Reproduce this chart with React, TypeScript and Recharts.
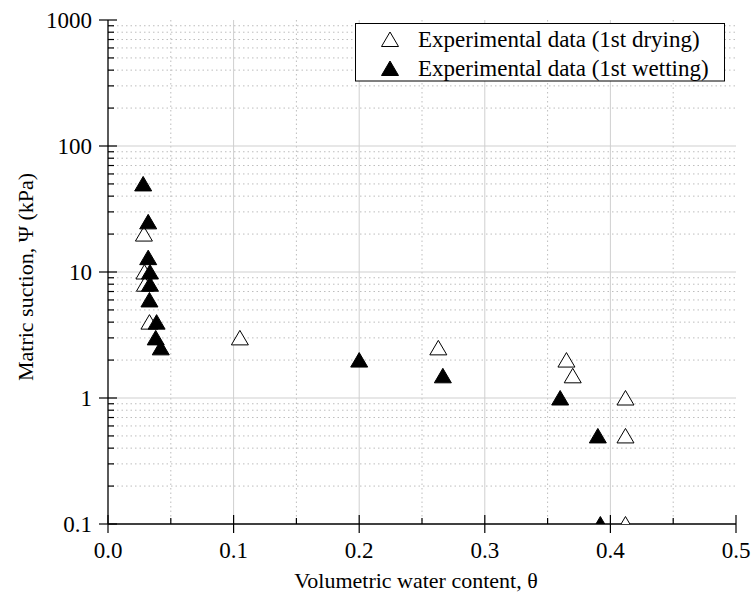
import React from "react";
import { ScatterChart, Scatter, XAxis, YAxis, CartesianGrid, Legend } from "recharts";

const FONT = '"Liberation Serif", "Times New Roman", Times, serif';

// 1st drying (open triangles)
const dryTheta = [0.0286, 0.029, 0.0294, 0.033, 0.105, 0.263, 0.365, 0.37, 0.412, 0.412, 0.412];
const dryPsi = [20, 10, 8, 4, 3, 2.5, 2, 1.5, 1, 0.5, 0.1];

// 1st wetting (filled triangles)
const wetTheta = [0.028, 0.032, 0.032, 0.0334, 0.0334, 0.033, 0.0387, 0.038, 0.042, 0.2, 0.2666, 0.36, 0.39, 0.392];
const wetPsi = [50, 25, 13, 10, 8, 6, 4, 3, 2.5, 2, 1.5, 1, 0.5, 0.1];

// axis ticks
const xMajor = [0, 0.1, 0.2, 0.3, 0.4, 0.5];
const xMajorLabels = ["0.0", "0.1", "0.2", "0.3", "0.4", "0.5"];
const xMinor = [0.05, 0.15, 0.25, 0.35, 0.45];
const yMajor = [0.1, 1, 10, 100, 1000];
const yMajorLabels = ["0.1", "1", "10", "100", "1000"];
const yMinor = [
  0.2, 0.3, 0.4, 0.5, 0.6, 0.7, 0.8, 0.9,
  2, 3, 4, 5, 6, 7, 8, 9,
  20, 30, 40, 50, 60, 70, 80, 90,
  200, 300, 400, 500, 600, 700, 800, 900,
];
const xGridMajor = [0.1, 0.2, 0.3, 0.4];
const yGridMajor = [1, 10, 100];

const seriesNames = ["Experimental data (1st drying)", "Experimental data (1st wetting)"];

const dryData = dryTheta.map((t, i) => ({ theta: t, psi: dryPsi[i] }));
const wetData = wetTheta.map((t, i) => ({ theta: t, psi: wetPsi[i] }));
const xTicks = [...xMajor, ...xMinor].sort((a, b) => a - b);
const yTicks = [...yMajor, ...yMinor].sort((a, b) => a - b);

const TICK_W = 1.2;
const textStyle = { fontFamily: FONT };

function triPoints(cx: number, cy: number) {
  return `${cx},${cy - 7.5} ${cx - 8.5},${cy + 7} ${cx + 8.5},${cy + 7}`;
}

function OpenTri(props: any) {
  const { cx, cy } = props;
  return <polygon points={triPoints(cx, cy)} fill="#fff" stroke="#000" strokeWidth={1} />;
}

function FilledTri(props: any) {
  const { cx, cy } = props;
  return <polygon points={triPoints(cx, cy)} fill="#000" stroke="#000" strokeWidth={1} />;
}

function BottomTick(props: any) {
  const { x, y, payload } = props;
  const i = xMajor.indexOf(payload.value);
  if (i < 0) return <line x1={x} x2={x} y1={y} y2={y - 6} stroke="#000" strokeWidth={TICK_W} />;
  return (
    <g>
      <line x1={x} x2={x} y1={y - 9} y2={y + 9} stroke="#000" strokeWidth={TICK_W} />
      <text x={x} y={y + 34} textAnchor="middle" style={textStyle} fontSize={23} fill="#000">
        {xMajorLabels[i]}
      </text>
    </g>
  );
}

function TopTick(props: any) {
  const { x, y, payload } = props;
  const len = xMajor.includes(payload.value) ? 9 : 6;
  return <line x1={x} x2={x} y1={y} y2={y + len} stroke="#000" strokeWidth={TICK_W} />;
}

function LeftTick(props: any) {
  const { x, y, payload } = props;
  const i = yMajor.indexOf(payload.value);
  if (i < 0) return <line x1={x} x2={x + 6} y1={y} y2={y} stroke="#000" strokeWidth={TICK_W} />;
  return (
    <g>
      <line x1={x - 9} x2={x + 9} y1={y} y2={y} stroke="#000" strokeWidth={TICK_W} />
      <text x={x - 16} y={y + 7.5} textAnchor="end" style={textStyle} fontSize={23} fill="#000">
        {yMajorLabels[i]}
      </text>
    </g>
  );
}

function RightTick(props: any) {
  const { x, y, payload } = props;
  const len = yMajor.includes(payload.value) ? 9 : 6;
  return <line x1={x} x2={x - len} y1={y} y2={y} stroke="#000" strokeWidth={TICK_W} />;
}

// legend box drawn as a small svg, sits over the grid with a white fill
function LegendBox() {
  return (
    <svg width={370} height={59} style={{ display: "block" }}>
      <rect x={0.5} y={0.5} width={369} height={57.5} fill="#fff" stroke="#000" strokeWidth={1} />
      {seriesNames.map((name, i) => {
        const cy = 16.5 + i * 29;
        return (
          <g key={name}>
            <polygon
              points={triPoints(35, cy)}
              fill={i === 0 ? "#fff" : "#000"}
              stroke="#000"
              strokeWidth={1}
            />
            <text x={63} y={cy + 7.5} style={textStyle} fontSize={23} fill="#000">
              {name}
            </text>
          </g>
        );
      })}
    </svg>
  );
}

export default function App() {
  return (
    <div style={{ position: "absolute", left: 0, top: 0, width: 751, height: 609, background: "#fff" }}>
      <ScatterChart width={751} height={609} margin={{ top: 20, right: 15, bottom: 0, left: 0 }}>
        <CartesianGrid
          horizontalValues={yMinor}
          verticalValues={xMinor}
          stroke="#bdbdbd"
          strokeDasharray="1.5 3"
        />
        <CartesianGrid horizontalValues={yGridMajor} verticalValues={xGridMajor} stroke="#cfcfcf" />

        <XAxis
          dataKey="theta"
          type="number"
          domain={[0, 0.5]}
          ticks={xTicks}
          interval={0}
          height={85}
          tickSize={0}
          tickMargin={0}
          tickLine={false}
          tick={<BottomTick />}
          axisLine={{ stroke: "#000", strokeWidth: 1.3 }}
          label={{
            content: (p: any) => {
              const vb = p.viewBox;
              return (
                <text x={vb.x + vb.width / 2 - 6} y={vb.y + 64} textAnchor="middle" style={textStyle} fontSize={22} fill="#000">
                  Volumetric water content, θ
                </text>
              );
            },
          }}
        />
        <XAxis
          xAxisId="top"
          orientation="top"
          type="number"
          domain={[0, 0.5]}
          ticks={xTicks}
          interval={0}
          height={0}
          tickSize={0}
          tickMargin={0}
          tickLine={false}
          tick={<TopTick />}
          axisLine={{ stroke: "#000", strokeWidth: 1.3 }}
        />
        <YAxis
          dataKey="psi"
          type="number"
          scale="log"
          domain={[0.1, 1000]}
          allowDataOverflow
          ticks={yTicks}
          interval={0}
          width={108}
          tickSize={0}
          tickMargin={0}
          tickLine={false}
          tick={<LeftTick />}
          axisLine={{ stroke: "#000", strokeWidth: 1.3 }}
          label={{
            content: (p: any) => {
              const vb = p.viewBox;
              const cx = 33;
              const cy = vb.y + vb.height / 2 + 5;
              return (
                <text x={cx} y={cy} transform={`rotate(-90 ${cx} ${cy})`} textAnchor="middle" style={textStyle} fontSize={22} fill="#000">
                  Matric suction, Ψ (kPa)
                </text>
              );
            },
          }}
        />
        <YAxis
          yAxisId="right"
          orientation="right"
          type="number"
          scale="log"
          domain={[0.1, 1000]}
          allowDataOverflow
          ticks={yTicks}
          interval={0}
          width={0}
          tickSize={0}
          tickMargin={0}
          tickLine={false}
          tick={<RightTick />}
          axisLine={{ stroke: "#000", strokeWidth: 1.3 }}
        />

        <Legend
          layout="horizontal"
          verticalAlign="middle"
          align="center"
          wrapperStyle={{ left: 355, top: 23, width: 370, height: 59 }}
          content={() => <LegendBox />}
        />

        <Scatter name={seriesNames[0]} data={dryData} shape={<OpenTri />} isAnimationActive={false} />
        <Scatter name={seriesNames[1]} data={wetData} shape={<FilledTri />} isAnimationActive={false} />
      </ScatterChart>
    </div>
  );
}
